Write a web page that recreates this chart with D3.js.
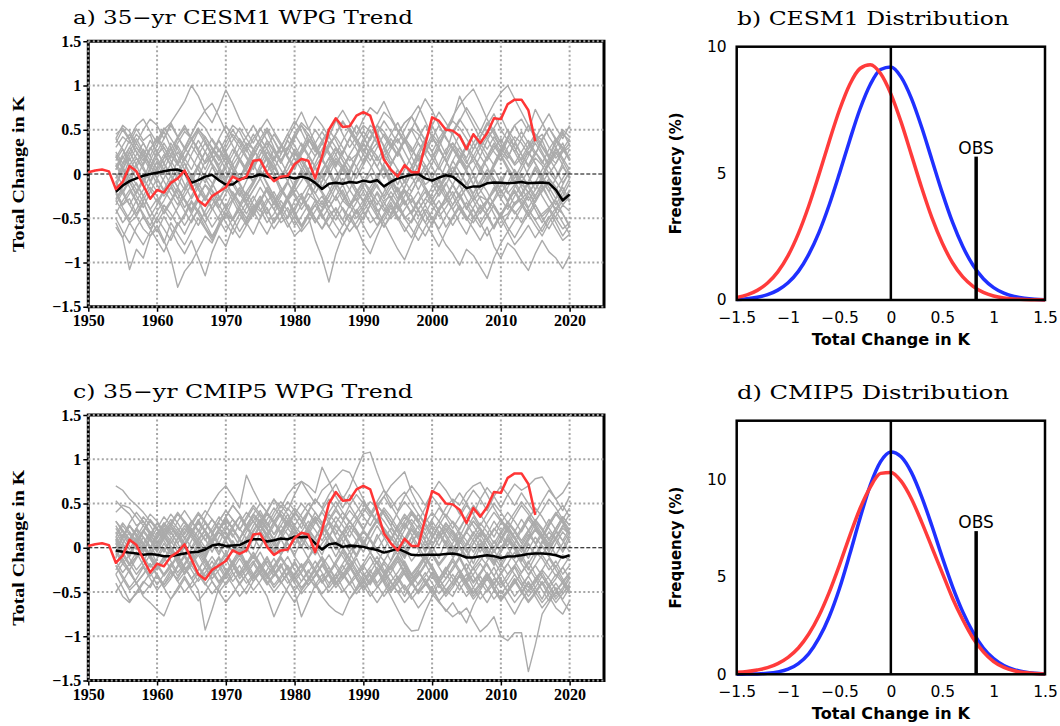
<!DOCTYPE html>
<html>
<head>
<meta charset="utf-8">
<script src="https://d3js.org/d3.v7.min.js"></script>
<style>
body { margin: 0; background: #fff; }
</style>
</head>
<body>
<div id="myDiv"></div>
<script>
// ---- data ----
var obsStart = 1950, memStart = 1954;

// observed 35-yr trend (K), 1950-2015
var obsTrend = [0.02, 0.04, 0.05, 0.03, -0.17, -0.09, 0.09, 0.03, -0.13, -0.28,
    -0.18, -0.21, -0.10, -0.05, 0.04, -0.13, -0.30, -0.36, -0.25, -0.20,
    -0.15, -0.03, -0.07, -0.03, 0.15, 0.16, 0.01, -0.08, -0.03, -0.02,
    0.11, 0.17, 0.15, -0.05, 0.20, 0.50, 0.63, 0.53, 0.54, 0.66,
    0.70, 0.66, 0.42, 0.16, 0.05, -0.03, 0.10, 0.02, 0.02, 0.33,
    0.64, 0.60, 0.50, 0.49, 0.43, 0.28, 0.45, 0.35, 0.46, 0.63,
    0.62, 0.79, 0.84, 0.84, 0.72, 0.37];

// ensemble means (K), 1954-2020
var cesmMean = [-0.20, -0.13, -0.08, -0.05, -0.02, 0.00, 0.015, 0.03, 0.045, 0.05,
    0.02, -0.10, -0.07, -0.03, -0.01, -0.07, -0.12, -0.12, -0.06, -0.04,
    -0.03, -0.005, -0.03, -0.05, -0.04, -0.03, -0.05, -0.03, -0.05, -0.10,
    -0.17, -0.11, -0.10, -0.11, -0.09, -0.10, -0.075, -0.09, -0.07, -0.14,
    -0.09, -0.05, -0.03, -0.01, 0.00, -0.05, -0.075, -0.04, -0.015, -0.03,
    -0.09, -0.16, -0.14, -0.14, -0.105, -0.095, -0.10, -0.105, -0.10, -0.09,
    -0.105, -0.10, -0.095, -0.105, -0.18, -0.30, -0.23];
var cmipMean = [-0.03, -0.045, -0.055, -0.065, -0.08, -0.07, -0.08, -0.095, -0.095, -0.08,
    -0.065, -0.05, -0.045, -0.02, 0.025, 0.04, 0.02, 0.025, 0.03, 0.07,
    0.095, 0.095, 0.07, 0.085, 0.105, 0.095, 0.125, 0.12, 0.125, 0.05,
    -0.02, 0.04, 0.05, 0.01, 0.025, 0.02, 0.01, -0.01, -0.025, -0.055,
    -0.035, -0.01, -0.045, -0.08, -0.085, -0.08, -0.08, -0.08, -0.07, -0.065,
    -0.08, -0.11, -0.11, -0.095, -0.085, -0.095, -0.115, -0.10, -0.095, -0.085,
    -0.07, -0.065, -0.065, -0.07, -0.085, -0.11, -0.085];

// individual members, 1954-2020, in 0.01 K
var cesmMembers = [
  [30,42,35,51,38,45,22,30,18,35, 48,40,25,12,20,5,-8,10,22,35, 28,40,52,38,25,30,18,5,-10,8, 20,35,42,30,15,22,40,55,48,30, 12,25,38,20,5,-12,-5,10,28,35, 20,8,15,30,42,50,35,22,10,18, 32,45,38,20,12,25,30],
  [-30,-42,-55,-48,-62,-70,-58,-75,-95,-128, -110,-100,-85,-70,-78,-60,-45,-52,-38,-50, -35,-42,-28,-40,-55,-48,-30,-22,-38,-50, -62,-45,-40,-52,-35,-28,-42,-55,-48,-30, -25,-38,-50,-42,-30,-45,-58,-40,-32,-20, -35,-48,-55,-42,-30,-38,-50,-45,-32,-28, -40,-52,-45,-38,-50,-62,-55],
  [10,-5,18,2,-12,8,25,12,-3,15, 30,18,5,-10,8,-5,12,28,15,2, -8,10,25,12,-5,5,20,35,22,8, -15,-2,15,5,-10,8,22,10,-5,12, 28,40,25,10,-8,5,18,30,15,0, -12,5,20,8,-5,10,25,15,2,-10, 5,18,10,-5,-18,-5,8],
  [-20,-35,-28,-45,-30,-15,-25,-40,-52,-38, -25,-12,-30,-48,-35,-20,-10,-25,-40,-55, -42,-30,-18,-28,-45,-60,-48,-35,-22,-30, -48,-60,-45,-30,-38,-25,-15,-28,-42,-35, -20,-32,-48,-55,-40,-28,-35,-22,-10,-25, -40,-52,-38,-25,-30,-45,-60,-48,-35,-28, -20,-35,-48,-40,-55,-70,-58],
  [45,52,40,55,62,48,35,50,58,42, 30,45,60,52,38,25,40,55,48,32, 20,35,48,30,15,28,42,55,40,25, 38,50,62,45,30,42,55,48,35,20, 32,45,58,65,50,38,25,40,52,45, 30,18,35,48,40,25,15,30,42,35, 22,38,45,30,18,28,40],
  [-60,-72,-55,-68,-80,-65,-50,-62,-75,-58, -45,-30,-42,-55,-40,-25,-38,-20,-32,-45, -30,-15,-28,-40,-25,-10,-22,-35,-18,-5, -20,-32,-15,-5,-18,-30,-12,0,-15,-25, -10,5,-8,-20,-5,10,-3,-15,-28,-12, 2,-10,-22,-8,5,-5,-18,-30,-15,-2, -12,-25,-10,2,-8,-20,-32],
  [15,28,10,22,35,20,5,18,30,12, 25,38,50,42,28,15,30,45,35,20, 8,22,35,18,5,-8,10,25,40,28, 15,30,45,60,48,35,22,40,55,70, 62,48,35,50,68,85,72,55,40,30, 18,32,45,30,15,28,40,25,12,25, 38,25,12,28,40,30,18],
  [-10,-22,-8,-25,-38,-20,-5,-18,-30,-15, -28,-40,-25,-12,-20,-35,-48,-30,-18,-32, -45,-30,-15,-28,-40,-55,-70,-62,-48,-75, -95,-122,-90,-68,-55,-40,-52,-35,-20,-32, -45,-30,-18,-25,-40,-28,-15,-5,-20,-35, -22,-10,-25,-38,-30,-15,-28,-40,-25,-12, -20,-32,-18,-5,-15,-28,-20],
  [5,20,8,-5,12,28,40,25,10,32, 18,5,22,35,20,8,-5,15,30,42, 55,40,28,15,30,45,32,18,5,20, 35,22,8,25,40,28,12,30,45,32, 18,5,-10,8,25,40,55,38,22,48, 62,50,35,20,38,52,65,48,30,15, 28,40,25,10,22,35,15],
  [-55,-72,-108,-85,-95,-70,-62,-78,-55,-68, -80,-65,-50,-62,-75,-58,-45,-52,-40,-55, -68,-50,-38,-55,-42,-30,-48,-60,-45,-35, -50,-38,-25,-40,-55,-42,-30,-45,-58,-45, -32,-48,-60,-72,-55,-40,-52,-38,-28,-40, -55,-68,-50,-38,-45,-60,-48,-35,-42,-55, -40,-52,-65,-50,-38,-45,-60],
  [0,-12,5,18,8,-8,-20,-5,12,25, 12,-2,-15,0,15,28,18,5,-8,8, 22,35,20,8,-5,12,25,15,2,-10, 5,18,30,20,8,-5,10,25,35,22, 10,25,40,30,15,28,45,35,50,65, 78,88,96,80,62,48,35,50,38,22, 10,25,15,0,12,28,18],
  [-30,-18,-35,-48,-32,-50,-65,-48,-62,-78, -90,-75,-95,-115,-88,-70,-82,-60,-45,-58, -40,-28,-45,-32,-18,-30,-42,-25,-12,-28, -38,-25,-10,-22,-35,-20,-8,-18,-30,-42, -28,-15,-30,-45,-32,-20,-35,-48,-38,-25, -12,-28,-40,-55,-42,-30,-18,-32,-45,-35, -22,-10,-25,-38,-28,-15,-30],
  [25,12,30,45,35,20,38,52,40,28, 15,32,48,35,22,40,55,42,30,18, 5,22,38,28,15,30,45,58,50,65, 55,42,60,72,58,45,62,75,68,82, 65,50,38,25,40,55,42,30,48,62, 88,70,55,40,28,42,30,18,35,48, 35,22,40,52,38,25,35],
  [-20,-35,-22,-10,-25,-40,-28,-45,-32,-18, -30,-45,-58,-42,-28,-40,-55,-68,-52,-38, -25,-40,-55,-45,-30,-42,-58,-48,-35,-50, -62,-50,-38,-52,-65,-55,-42,-30,-45,-60, -48,-35,-50,-62,-75,-60,-48,-65,-80,-90, -103,-85,-92,-105,-118,-95,-78,-65,-80,-70, -58,-72,-60,-48,-62,-75,-68],
  [35,50,38,25,15,30,18,5,22,40, 52,40,28,12,25,38,22,10,-5,12, 28,15,2,18,32,20,8,25,38,30, 15,5,-10,8,22,35,48,38,55,42, 30,45,58,65,77,60,42,28,15,30, 18,5,20,35,22,10,28,40,55,62, 48,73,58,42,30,45,38],
  [-40,-55,-45,-30,-48,-62,-50,-35,-45,-58, -48,-32,-45,-60,-72,-55,-40,-52,-38,-25, -42,-55,-68,-52,-40,-28,-45,-58,-48,-35, -25,-40,-52,-38,-50,-62,-48,-35,-22,-38, -50,-42,-30,-45,-58,-70,-55,-42,-60,-48, -35,-50,-62,-75,-60,-82,-95,-78,-85,-98, -109,-90,-75,-88,-95,-107,-92],
  [-15,5,25,10,-8,15,32,48,30,12, 0,-18,-5,15,30,20,5,-12,-25,-8, 10,28,15,-2,-20,-8,12,28,45,32, 18,0,-15,-30,-18,0,15,30,20,5, -12,-28,-15,2,20,38,25,8,-5,15, 30,15,0,-15,-5,12,28,42,30,15, -2,-18,-5,12,25,10,-5],
  [40,55,48,35,50,62,55,40,58,70, 82,100,88,70,58,75,95,80,62,48, 35,50,62,48,35,22,40,55,45,30, 18,32,45,58,50,38,25,42,55,48, 35,22,38,52,45,30,18,35,48,60, 52,40,28,42,55,68,50,38,25,40, 55,45,32,20,38,50,42],
  [-5,8,-10,-22,-8,5,-12,-25,-15,0, 12,-5,-18,-30,-15,2,-10,-22,-35,-20, -8,5,-12,-25,-40,-28,-15,0,-12,-22, -8,5,18,8,-5,-18,-30,-15,-2,-15, -28,-40,-25,-12,0,-15,-28,-18,-5,8, -5,-18,-30,-20,-8,5,-10,-22,-12,0, -15,-28,-20,-8,-22,-35,-25],
  [20,5,-10,8,22,10,-5,-20,-8,5, -12,-28,-15,0,-10,-25,-40,-28,-15,-30, -18,-5,10,-2,-15,-30,-20,-8,5,-10, -22,-38,-25,-12,-30,-45,-35,-20,-40,-55, -70,-85,-97,-78,-60,-45,-30,-42,-25,-12, -28,-15,-2,-18,-30,-20,-8,5,-12,-25, -10,5,-8,-20,-5,8,-3],
  [22,8,-5,12,28,15,0,18,35,20, 5,-10,8,25,40,28,12,-2,15,30, 45,32,18,5,22,38,25,10,-5,12, 28,42,30,15,2,20,35,22,8,25, 40,28,12,-5,10,25,40,30,15,0, 18,32,20,5,-10,8,22,38,25,10, 25,12,-2,15,30,18,5],
  [-28,-15,0,-12,-25,-10,5,-8,-22,-35, -20,-5,10,-5,-18,-30,-15,2,-12,-25, -10,5,18,2,-15,-28,-12,3,-10,-22, -35,-20,-5,10,-3,-18,-32,-20,-5,8, -8,-22,-35,-20,-5,-18,-30,-15,0,-12, -25,-40,-28,-12,2,-12,-28,-15,0,-15, -30,-18,-2,-15,-28,-12,3],
  [18,32,45,30,20,38,25,12,28,42, 55,40,28,42,30,18,35,50,38,25, 40,52,38,25,12,28,45,32,20,35, 48,35,22,38,52,40,28,15,30,45, 32,20,38,50,35,22,40,55,42,28, 15,30,45,32,50,38,25,42,55,40, 28,42,30,18,35,48,32],
  [-45,-30,-18,-32,-45,-58,-42,-30,-15,-28, -42,-55,-40,-25,-38,-52,-65,-50,-35,-20, -35,-48,-32,-20,-35,-50,-38,-25,-40,-55, -42,-30,-45,-58,-45,-32,-20,-35,-48,-60, -45,-32,-20,-35,-48,-35,-50,-62,-48,-35, -22,-38,-50,-35,-48,-62,-45,-32,-20,-35, -48,-35,-50,-62,-48,-35,-42],
  [-5,10,25,40,25,10,-5,12,0,-15, 5,22,38,25,10,-8,8,22,40,28, 12,-5,10,28,15,0,-15,5,20,8, -5,12,28,15,0,18,35,50,35,18, 2,-12,5,20,35,22,8,-8,10,28, 45,30,15,0,18,32,20,5,-10,5, 20,35,22,8,-5,12,28],
  [-50,-65,-78,-60,-48,-62,-75,-88,-70,-55, -68,-52,-40,-55,-70,-58,-45,-60,-72,-58, -45,-32,-48,-62,-50,-38,-52,-65,-55,-42, -30,-45,-58,-70,-55,-42,-58,-72,-60,-48, -35,-50,-65,-52,-40,-55,-68,-82,-65,-50, -38,-52,-40,-55,-70,-58,-45,-60,-72,-58, -45,-58,-70,-55,-42,-55,-68],
  [40,28,15,30,18,5,20,35,22,10, 25,40,52,38,22,10,25,38,52,40, 28,15,30,45,32,18,5,22,35,50, 38,25,10,25,40,55,42,28,15,30, 45,58,42,28,15,30,18,5,20,35, 25,12,28,42,58,45,30,18,35,22, 8,22,38,52,40,28,15],
  [-35,-20,-5,-18,-32,-48,-35,-20,-8,-22, -38,-25,-10,-25,-40,-28,-15,-30,-45,-32, -18,-5,-20,-35,-22,-8,-25,-40,-28,-15, -2,-15,-30,-18,-35,-50,-38,-25,-12,-28, -15,-2,-18,-32,-20,-35,-22,-8,-25,-40, -28,-15,-30,-45,-32,-18,-5,-20,-35,-22, -38,-25,-12,-28,-42,-30,-18],
  [-10,5,20,35,22,8,25,40,55,42, 28,45,60,72,80,65,48,32,18,5, 20,35,50,38,22,40,55,70,52,35, 18,2,-12,5,20,8,-8,-22,-8,10, -5,-20,-8,8,22,10,-5,-18,-2,15, 2,-12,5,20,8,-8,-22,-10,5,-8, -22,-10,5,18,5,-10,2],
  [12,0,-15,-30,-18,-2,15,2,-12,-28, -15,0,-15,-28,-12,5,20,5,-10,-25, -12,3,-10,-25,-40,-25,-10,5,-8,-22, -8,8,22,8,-8,-22,-10,5,20,5, -12,-28,-15,2,18,5,-10,-25,-12,3, 18,5,-12,-28,-42,-28,-12,5,-8,-22, -8,8,-5,-20,-35,-20,-5],
  [8,22,38,25,10,28,42,30,15,2, 18,32,20,5,22,38,25,10,-5,10, 25,40,28,15,30,45,60,48,32,20, 35,50,38,22,40,55,42,28,45,60, 48,35,50,65,52,38,55,70,58,45, 60,75,62,48,65,80,92,100,85,70, 55,40,55,68,52,40,55],
  [-22,-38,-52,-40,-25,-40,-55,-42,-30,-45, -58,-45,-30,-45,-60,-48,-35,-50,-65,-52, -38,-25,-40,-55,-42,-28,-42,-58,-45,-30, -45,-60,-72,-58,-45,-60,-78,-90,-70,-52, -38,-52,-40,-28,-42,-55,-42,-30,-45,-58, -45,-32,-48,-60,-48,-35,-50,-65,-52,-38, -25,-40,-55,-42,-30,-45,-58],
  [5,18,30,18,5,-8,8,22,10,-5, -18,-5,10,25,12,0,-15,2,18,5, -10,5,20,8,-5,12,28,15,0,-15, 2,18,5,-10,5,20,35,22,8,-5, 10,25,12,-2,-18,-2,12,28,15,0, 15,2,-12,5,20,35,22,8,-5,10, 25,12,-2,12,28,15,0],
  [-8,-22,-35,-20,-5,-18,-32,-18,-2,-15, -30,-42,-28,-12,-25,-38,-22,-8,-22,-35, -48,-32,-18,-32,-45,-30,-15,-28,-42,-55, -40,-25,-10,-25,-38,-22,-8,-22,-35,-20, -5,-18,-32,-45,-30,-15,-28,-42,-28,-12, -25,-38,-22,-8,-20,-35,-48,-32,-18,-32, -45,-30,-15,-28,-40,-25,-10]
];

var cmipMembers = [
  [70,65,55,48,40,30,22,35,25,12, 5,18,8,-5,10,22,15,2,-10,5, 18,30,20,8,-5,10,25,15,2,-8, 5,15,2,-10,-22,-8,5,-5,-18,-28, -15,-2,-18,-30,-20,-8,-22,-35,-25,-12, -25,-38,-22,-10,-20,-32,-18,-5,-15,-28, -18,-5,-12,-25,-15,-30,-20],
  [53,45,38,25,30,18,10,22,12,0, -10,-2,10,20,8,-5,12,25,35,22, 30,42,28,15,25,38,22,10,25,40, 28,15,5,18,30,20,8,-5,10,22, 12,0,-12,5,18,8,-5,10,22,12, 0,-12,5,15,2,-10,-22,-8,5,-5, 8,20,10,-2,10,22,15],
  [-40,-55,-62,-50,-38,-45,-30,-42,-28,-35, -22,-35,-48,-93,-70,-45,-32,-20,-35,-25, -15,-28,-40,-30,-18,-35,-50,-78,-60,-42, -30,-45,-35,-20,-32,-48,-38,-25,-40,-30, -45,-35,-22,-38,-50,-42,-28,-35,-48,-55, -40,-30,-45,-58,-48,-35,-42,-30,-20,-32, -45,-38,-25,-35,-48,-40,-30],
  [10,-5,8,20,5,-8,12,25,15,30, 42,30,18,35,50,62,70,58,45,82, 65,50,40,55,38,25,40,30,18,5, 15,28,12,0,-12,5,18,8,-5,-15, -2,12,0,-15,-5,8,-8,-20,-10,2, -12,-25,-10,5,-8,-20,-5,10,0,-12, -25,-10,2,-10,-22,-8,-15],
  [5,15,2,-10,5,18,8,-5,10,22, 12,0,15,28,18,5,20,32,22,10, 25,38,28,15,30,45,35,22,40,55, 45,60,72,55,68,88,106,108,85,65, 48,35,22,40,28,15,30,18,5,20, 8,-5,10,22,12,0,15,28,18,5, 18,30,20,8,22,35,25],
  [-15,-28,-18,-5,-20,-32,-22,-10,-25,-38, -28,-15,-30,-42,-30,-18,-32,-20,-8,-22, -35,-25,-12,-25,-40,-28,-15,-30,-42,-32, -20,-8,-22,-35,-25,-12,-28,-40,-30,-18, -30,-42,-55,-40,-28,-38,-50,-35,-22,-35, -48,-35,-22,-38,-50,-40,-28,-42,-55,-45, -32,-45,-58,-42,-30,-40,-52],
  [25,12,28,40,30,15,5,20,32,22, 10,25,38,28,15,30,42,32,20,35, 48,38,25,40,52,42,60,75,70,62, 91,75,58,45,60,48,35,25,40,30, 18,5,20,32,22,10,25,15,2,-10, 5,18,8,-5,10,22,12,0,-12,2, 15,5,-8,5,18,8,-5],
  [-20,-35,-48,-40,-55,-62,-70,-77,-58,-45, -32,-45,-35,-22,-38,-50,-40,-28,-42,-30, -18,-30,-42,-32,-20,-35,-48,-38,-25,-40, -52,-42,-30,-45,-58,-48,-35,-50,-62,-50, -38,-50,-42,-55,-68,-58,-45,-60,-72,-62, -75,-68,-82,-95,-88,-78,-100,-105,-96,-96, -140,-110,-75,-62,-50,-58,-45],
  [18,5,-8,8,20,10,-2,12,25,15, 2,15,28,18,5,20,32,22,10,25, 38,28,15,30,42,32,20,8,22,35, 25,12,28,40,30,18,5,20,32,45, 35,22,10,25,38,28,15,2,18,30, 20,35,48,38,25,12,28,40,30,18, 32,45,35,22,10,25,38],
  [-10,2,-12,-25,-15,-2,-18,-30,-20,-8, -22,-35,-25,-12,-28,-40,-30,-18,-5,-20, -32,-22,-10,-25,-38,-50,-62,-48,-35,-42, -55,-65,-72,-76,-58,-45,-30,-42,-28,-15, -25,-12,-28,-40,-30,-18,-32,-45,-35,-22, -10,-25,-38,-28,-15,-2,-18,-30,-20,-8, -22,-35,-25,-12,-25,-38,-28],
  [30,18,5,22,12,-2,15,28,18,5, -8,8,20,10,-5,12,25,15,2,18, 30,20,8,-5,10,22,12,0,15,28, 40,28,15,30,42,32,20,35,48,38, 25,40,52,42,30,45,58,48,35,50, 62,50,38,55,68,58,45,60,72,65, 70,78,80,68,55,62,75],
  [-5,-18,-8,5,-10,-22,-12,0,-15,-28, -18,-5,-20,-32,-22,-10,-25,-38,-28,-15, -30,-42,-55,-78,-60,-45,-32,-20,-35,-25, -12,-28,-40,-30,-18,-35,-48,-38,-25,-40, -55,-70,-85,-94,-93,-72,-55,-40,-28,-42, -30,-18,-32,-45,-35,-22,-38,-50,-40,-28, -15,-30,-42,-32,-20,-35,-48],
  [0,12,25,15,2,-10,5,18,8,-5, 10,22,12,0,15,28,18,5,-8,8, 20,32,22,10,25,15,2,18,30,20, 8,22,35,25,12,28,40,52,45,58, 70,78,86,63,48,35,22,10,25,15, 2,-10,5,18,8,-5,10,22,12,0, -12,2,15,5,-8,5,18],
  [-25,-12,-28,-40,-30,-18,-32,-45,-35,-22, -10,-25,-38,-28,-15,-30,-42,-32,-20,-35, -48,-38,-25,-12,-28,-40,-30,-18,-32,-45, -35,-22,-38,-50,-40,-28,-42,-55,-45,-32, -20,-35,-48,-38,-25,-40,-52,-62,-70,-78, -72,-85,-65,-50,-62,-48,-35,-50,-62,-52, -40,-55,-68,-58,-45,-60,-72],
  [12,25,15,2,18,30,20,8,-5,10, 22,12,0,-12,5,18,8,-5,10,22, 12,0,15,28,18,5,-8,8,20,10, -2,12,25,15,2,-10,5,18,30,20, 8,22,35,25,12,28,40,30,45,55, 48,62,70,74,60,45,32,20,35,48, 38,25,12,28,40,30,18],
  [-30,-45,-60,-52,-40,-28,-42,-30,-18,-32, -20,-8,-22,-35,-25,-12,-28,-15,-2,-18, -5,-18,-30,-20,-8,5,-10,-22,-12,0, -15,-28,-18,-5,-20,-32,-22,-10,-25,-38, -28,-15,-30,-42,-32,-20,-8,-22,-35,-25, -12,-28,-40,-30,-18,-32,-45,-35,-22,-38, -50,-40,-28,-42,-55,-45,-32],
  [8,20,10,-2,12,2,-10,5,-8,12, 25,15,2,-10,5,18,8,-5,10,0, -12,2,15,5,-8,8,20,10,-2,12, 25,15,2,18,5,-8,8,-5,-18,-2, 12,2,-10,5,18,8,-5,-18,-8,5, 18,8,-5,10,-2,-15,0,12,2,-10, 5,-8,5,18,8,-5,10],
  [-8,5,18,8,-5,10,22,12,0,-12, 2,15,5,-8,8,20,30,22,10,25, 38,30,42,55,45,60,70,75,62,50, 65,72,80,88,85,70,55,40,28,42, 30,18,5,20,10,-2,12,25,15,2, -10,5,18,8,-5,-18,-5,8,-2,-15, -2,12,2,-10,5,18,8],
  [5,-8,-20,-10,2,-12,-25,-15,-2,-18, -30,-20,-8,-22,-35,-25,-12,-28,-40,-30, -18,-5,-20,-32,-22,-10,-25,-38,-28,-15, -28,-40,-30,-18,-5,-20,-32,-22,-10,-25, -38,-28,-15,-30,-42,-32,-20,-35,-48,-38, -25,-40,-52,-42,-30,-45,-58,-48,-35,-50, -62,-52,-40,-55,-68,-75,-60],
  [15,28,18,5,20,32,22,10,25,38, 28,15,30,42,32,20,35,48,38,25, 12,28,40,30,18,32,45,35,22,10, 25,38,28,15,30,18,5,20,32,22, 10,25,38,28,15,2,18,30,20,8, 22,35,25,12,28,40,30,18,5,20, 32,22,10,25,38,48,35],
  [12,0,-10,5,18,8,-5,10,22,12, 0,-12,2,15,5,-8,8,20,10,-2, 12,25,15,2,18,30,20,8,22,35, 25,12,-2,12,25,15,2,18,30,18, 5,-8,8,22,10,-5,10,25,12,-2, 12,28,15,0,15,30,18,2,18,32, 20,5,18,32,20,8,22],
  [-2,-15,-25,-12,0,-12,-25,-15,-2,-15, -28,-18,-5,-18,-30,-20,-8,-20,-32,-22, -10,-22,-35,-25,-12,-25,-38,-28,-15,-28, -40,-30,-18,-30,-42,-32,-20,-32,-45,-35, -22,-10,-22,-35,-25,-12,-25,-38,-28,-15, -28,-40,-30,-18,-30,-42,-30,-18,-30,-42, -32,-20,-32,-45,-35,-22,-35],
  [30,20,8,22,35,25,12,25,38,28, 15,28,40,30,18,30,42,32,20,32, 45,35,22,35,48,38,25,38,50,40, 28,40,52,40,28,40,52,42,30,42, 30,18,30,42,32,20,32,45,35,22, 35,48,38,25,38,50,40,28,40,52, 42,30,42,55,45,32,45],
  [-30,-18,-28,-40,-30,-18,-30,-42,-32,-20, -8,-20,-32,-22,-10,-22,-35,-25,-12,-25, -38,-28,-15,-28,-40,-30,-18,-30,-42,-32, -20,-32,-45,-35,-22,-35,-48,-38,-25,-38, -50,-40,-28,-40,-52,-42,-30,-42,-55,-45, -32,-45,-58,-48,-35,-48,-60,-50,-38,-50, -38,-50,-62,-52,-40,-52,-42],
  [-12,5,-8,10,-5,12,-2,15,0,-15, 2,-12,8,-5,15,2,-10,8,-5,12, -2,18,5,-8,10,-5,15,2,-12,5, -8,12,-2,18,5,-10,8,-5,15,0, -15,5,-8,12,-2,-18,2,-12,8,-5, 12,-2,-18,2,-12,8,-5,15,0,-15, 5,-10,8,-5,12,-2,15],
  [8,-5,10,22,12,0,15,28,18,5, 18,30,20,8,22,35,25,12,28,40, 30,18,32,45,35,22,38,50,40,28, 42,55,45,32,48,60,50,38,52,65, 55,42,58,70,60,48,62,75,65,52, 38,52,65,55,42,58,70,60,48,62, 50,38,52,65,55,42,58],
  [-50,-38,-25,-40,-52,-42,-30,-45,-58,-48, -35,-48,-60,-50,-38,-50,-62,-52,-40,-52, -38,-25,-38,-50,-40,-28,-40,-52,-42,-30, -18,-30,-42,-32,-20,-32,-45,-35,-22,-35, -48,-38,-25,-38,-50,-40,-28,-40,-52,-42, -30,-42,-55,-45,-32,-45,-58,-48,-35,-48, -60,-50,-38,-50,-62,-52,-40],
  [22,10,-2,12,25,15,2,15,28,18, 5,18,30,20,8,20,32,22,10,22, 35,25,12,25,38,28,15,28,40,30, 18,30,42,32,20,32,45,35,48,58, 45,55,63,50,38,25,12,25,38,28, 15,2,15,28,18,5,18,30,20,8, 20,32,22,10,22,35,25],
  [5,-8,-20,-10,2,-10,-22,-12,0,-12, -25,-15,-2,-15,-28,-18,-5,-18,-30,-20, -8,-20,-32,-22,-10,-22,-35,-25,-12,-25, -38,-28,-15,-2,-15,-28,-18,-5,-18,-30, -20,-8,-20,-32,-22,-10,-22,-35,-25,-12, 0,-12,-25,-15,-2,-15,-28,-18,-5,-18, -30,-20,-8,-20,-32,-22,-10],
  [40,48,45,35,25,38,30,18,28,40, 30,18,8,20,32,22,10,22,35,25, 12,25,38,28,15,28,40,30,18,5, 18,30,20,8,-5,8,20,10,-2,10, 22,12,0,12,25,15,2,15,28,18, 5,18,30,20,8,-5,8,20,10,-2, 10,22,12,0,12,25,15],
  [-18,-5,-18,-30,-20,-8,-20,-32,-22,-10, -22,-35,-25,-12,-25,-38,-28,-15,-28,-40, -30,-18,-30,-42,-32,-20,-32,-45,-35,-22, -10,-22,-35,-25,-12,-25,-38,-28,-15,-28, -40,-50,-62,-52,-40,-28,-40,-52,-42,-30, -42,-55,-45,-32,-45,-58,-48,-62,-75,-60, -48,-35,-48,-60,-50,-38,-50],
  [-5,10,25,12,-2,12,28,15,2,-12, 2,18,32,18,5,20,35,22,8,-5, 10,25,12,-2,12,28,15,2,18,32, 18,5,-10,5,20,8,-5,10,25,12, -2,12,28,15,2,-12,2,18,5,-10, 5,20,35,22,8,-5,10,25,12,-2, 12,28,15,2,18,32,20],
  [-20,-32,-45,-35,-22,-35,-48,-38,-25,-38, -50,-40,-28,-40,-52,-42,-30,-42,-55,-45, -32,-20,-32,-45,-35,-22,-35,-48,-38,-25, -38,-50,-40,-28,-40,-52,-42,-30,-42,-55, -45,-32,-45,-58,-48,-35,-48,-60,-50,-38, -25,-38,-50,-40,-28,-40,-52,-42,-30,-42, -55,-45,-32,-45,-58,-48,-35],
  [0,12,25,15,2,15,28,18,5,18, 30,20,8,20,32,22,35,48,38,25, 38,50,40,28,40,52,42,30,42,55, 45,32,45,58,48,35,22,35,48,38, 25,12,25,38,28,15,2,15,28,18, 5,18,30,20,8,20,32,22,10,22, 35,25,12,25,38,28,15]
];

// fitted distributions (frequency %), sampled at distX
var distX = [-1.5, -1.4, -1.3, -1.2, -1.1, -1.0, -0.9, -0.8, -0.7, -0.6, -0.5, -0.4, -0.3, -0.2, -0.1, 0.0,
    0.1, 0.2, 0.3, 0.4, 0.5, 0.6, 0.7, 0.8, 0.9, 1.0, 1.1, 1.2, 1.3, 1.4, 1.5];
var cesmBlue = [0.02, 0.05, 0.11, 0.21, 0.39, 0.68, 1.13, 1.79, 2.66, 3.75, 5.00, 6.31, 7.54, 8.51, 9.10, 9.20,
    8.80, 7.96, 6.82, 5.53, 4.24, 3.07, 2.11, 1.37, 0.84, 0.49, 0.27, 0.14, 0.07, 0.03, 0.01];
var cesmRed = [0.10, 0.20, 0.38, 0.67, 1.11, 1.75, 2.62, 3.70, 4.95, 6.26, 7.50, 8.51, 9.14, 9.29, 8.94, 8.14,
    7.02, 5.73, 4.43, 3.24, 2.25, 1.47, 0.91, 0.54, 0.30, 0.16, 0.08, 0.04, 0.02, 0.01, 0.00];
var cmipBlue = [0.00, 0.01, 0.02, 0.05, 0.12, 0.26, 0.55, 1.05, 1.85, 2.95, 4.40, 6.15, 8.00, 9.70, 10.90, 11.40,
    11.15, 10.35, 9.10, 7.60, 6.00, 4.50, 3.20, 2.15, 1.35, 0.80, 0.45, 0.24, 0.12, 0.05, 0.02];
var cmipRed = [0.10, 0.14, 0.22, 0.34, 0.55, 0.87, 1.35, 2.05, 3.00, 4.20, 5.60, 7.10, 8.50, 9.60, 10.30, 10.35,
    9.90, 9.00, 7.80, 6.50, 5.20, 3.90, 2.80, 1.85, 1.15, 0.65, 0.35, 0.18, 0.09, 0.04, 0.02];

var obsValue = 0.83;
var obsBarCesm = 5.66, obsBarCmip = 7.34;

var trendTicks = [-1.5, -1, -0.5, 0, 0.5, 1, 1.5];
var yearTicks = [1950, 1960, 1970, 1980, 1990, 2000, 2010, 2020];
var distXTicks = [-1.5, -1, -0.5, 0, 0.5, 1, 1.5];
var freqTicks = [0, 5, 10];

// ---- drawing ----
var width = 1060, height = 726;
var serifBold = "'Liberation Serif', 'DejaVu Serif', serif";
var titleFont = "'DejaVu Serif', serif";
var sans = "'DejaVu Sans', sans-serif";

var svg = d3.select("#myDiv").append("svg").attr("width", width).attr("height", height)
    .style("background", "#fff");

function trendPanel(top, bottom, members, meanVals, title) {
    var x = d3.scaleLinear().domain([1950, 2025]).range([88.3, 604]);
    var y = d3.scaleLinear().domain([-1.5, 1.5]).range([bottom, top]);
    var line = d3.line().x(function(d) { return x(d[0]); }).y(function(d) { return y(d[1]); });
    var g = svg.append("g");

    g.selectAll(".member").data(members).enter().append("path")
        .attr("class", "member")
        .attr("d", function(m) { return line(m.map(function(v, i) { return [memStart + i, v / 100]; })); })
        .attr("fill", "none").attr("stroke", "#ababab").attr("stroke-width", 1.4)
        .attr("stroke-linejoin", "round");

    // frame
    g.append("rect").attr("x", x(1950)).attr("y", y(1.5))
        .attr("width", x(2025) - x(1950)).attr("height", y(-1.5) - y(1.5))
        .attr("fill", "none").attr("stroke", "#000").attr("stroke-width", 3);

    // dotted grid
    g.selectAll(".vgrid").data(yearTicks).enter().append("line")
        .attr("x1", function(d) { return x(d); }).attr("x2", function(d) { return x(d); })
        .attr("y1", y(1.5)).attr("y2", y(-1.5))
        .attr("stroke", "#a6a6a6").attr("stroke-width", 2).attr("stroke-dasharray", "2,2.5");
    g.selectAll(".hgrid").data(trendTicks.filter(function(d) { return d !== 0; })).enter().append("line")
        .attr("x1", x(1950)).attr("x2", x(2025))
        .attr("y1", function(d) { return y(d); }).attr("y2", function(d) { return y(d); })
        .attr("stroke", "#a6a6a6").attr("stroke-width", 2).attr("stroke-dasharray", "2,2.5");
    g.append("line").attr("x1", x(1950)).attr("x2", x(2025)).attr("y1", y(0)).attr("y2", y(0))
        .attr("stroke", "#000").attr("stroke-width", 1).attr("stroke-dasharray", "4,2");

    g.append("path").datum(meanVals.map(function(v, i) { return [memStart + i, v]; }))
        .attr("d", line).attr("fill", "none").attr("stroke", "#000").attr("stroke-width", 2.5)
        .attr("stroke-linejoin", "round");
    g.append("path").datum(obsTrend.map(function(v, i) { return [obsStart + i, v]; }))
        .attr("d", line).attr("fill", "none").attr("stroke", "#ff3535").attr("stroke-width", 2.5)
        .attr("stroke-linejoin", "round");

    var yAxis = g.append("g").attr("transform", "translate(" + (x(1950) - 1) + ",0)")
        .call(d3.axisLeft(y).tickValues(trendTicks).tickSize(4).tickPadding(2).tickFormat(d3.format("~g")));
    var xAxis = g.append("g").attr("transform", "translate(0," + (y(-1.5) + 1) + ")")
        .call(d3.axisBottom(x).tickValues(yearTicks).tickSize(4).tickPadding(3).tickFormat(d3.format("d")));
    [yAxis, xAxis].forEach(function(a) {
        a.select(".domain").remove();
        a.selectAll("line").attr("stroke", "#000").attr("stroke-width", 1.5);
        a.selectAll("text").attr("font-family", serifBold).attr("font-weight", "bold")
            .attr("font-size", 16).attr("fill", "#000");
    });

    g.append("text").attr("x", 73).attr("y", top - 17).text(title)
        .attr("font-family", titleFont).attr("font-size", 19)
        .attr("textLength", 340).attr("lengthAdjust", "spacingAndGlyphs");
    g.append("text").attr("transform", "translate(24," + y(0) + ") rotate(-90)")
        .attr("text-anchor", "middle").text("Total Change in K")
        .attr("font-family", serifBold).attr("font-weight", "bold").attr("font-size", 17)
        .attr("textLength", 156).attr("lengthAdjust", "spacingAndGlyphs");
}

function distPanel(top, bottom, yMax, blueVals, redVals, obsBar, title) {
    var x = d3.scaleLinear().domain([-1.5, 1.5]).range([736.7, 1045]);
    var y = d3.scaleLinear().domain([0, yMax]).range([bottom, top]);
    var curve = d3.line().curve(d3.curveMonotoneX)
        .x(function(d, i) { return x(distX[i]); }).y(function(d) { return y(d); });
    var g = svg.append("g");

    g.append("path").datum(blueVals).attr("d", curve).attr("fill", "none")
        .attr("stroke", "#1f30ff").attr("stroke-width", 3.5);
    g.append("path").datum(redVals).attr("d", curve).attr("fill", "none")
        .attr("stroke", "#ff3b3b").attr("stroke-width", 3.5);

    g.append("line").attr("x1", x(0)).attr("x2", x(0)).attr("y1", y(0)).attr("y2", y(yMax))
        .attr("stroke", "#000").attr("stroke-width", 2.5);
    g.append("line").attr("x1", x(obsValue)).attr("x2", x(obsValue)).attr("y1", y(0)).attr("y2", y(obsBar))
        .attr("stroke", "#000").attr("stroke-width", 3.5);
    g.append("text").attr("x", x(obsValue)).attr("y", y(obsBar) - 3).attr("text-anchor", "middle")
        .text("OBS").attr("font-family", sans).attr("font-size", 17);

    g.append("rect").attr("x", x(-1.5)).attr("y", y(yMax))
        .attr("width", x(1.5) - x(-1.5)).attr("height", y(0) - y(yMax))
        .attr("fill", "none").attr("stroke", "#000").attr("stroke-width", 2.5);

    var xAxis = g.append("g").attr("transform", "translate(0," + y(0) + ")")
        .call(d3.axisBottom(x).tickValues(distXTicks).tickSize(0).tickPadding(12).tickFormat(d3.format("~g")));
    var yAxis = g.append("g").attr("transform", "translate(" + x(-1.5) + ",0)")
        .call(d3.axisLeft(y).tickValues(freqTicks).tickSize(0).tickPadding(10).tickFormat(d3.format("d")));
    [xAxis, yAxis].forEach(function(a) {
        a.select(".domain").remove();
        a.selectAll("text").attr("font-family", sans).attr("font-size", 15.5).attr("fill", "#000");
    });

    g.append("text").attr("x", 737).attr("y", top - 22).text(title)
        .attr("font-family", titleFont).attr("font-size", 19)
        .attr("textLength", title.length > 20 ? 272 : 268).attr("lengthAdjust", "spacingAndGlyphs");
    g.append("text").attr("x", (x(-1.5) + x(1.5)) / 2).attr("y", y(0) + 45).attr("text-anchor", "middle")
        .text("Total Change in K").attr("font-family", sans).attr("font-weight", "bold").attr("font-size", 15)
        .attr("textLength", 158).attr("lengthAdjust", "spacingAndGlyphs");
    g.append("text").attr("transform", "translate(681," + (top + bottom) / 2 + ") rotate(-90)")
        .attr("text-anchor", "middle").text("Frequency (%)")
        .attr("font-family", sans).attr("font-weight", "bold").attr("font-size", 15);
}

trendPanel(41.25, 306.75, cesmMembers, cesmMean, "a) 35\u2212yr CESM1 WPG Trend");
trendPanel(415, 680.5, cmipMembers, cmipMean, "c) 35\u2212yr CMIP5 WPG Trend");
distPanel(46.7, 300, 10, cesmBlue, cesmRed, obsBarCesm, "b) CESM1 Distribution");
distPanel(420.7, 674.3, 13, cmipBlue, cmipRed, obsBarCmip, "d) CMIP5 Distribution");
</script>
</body>
</html>
